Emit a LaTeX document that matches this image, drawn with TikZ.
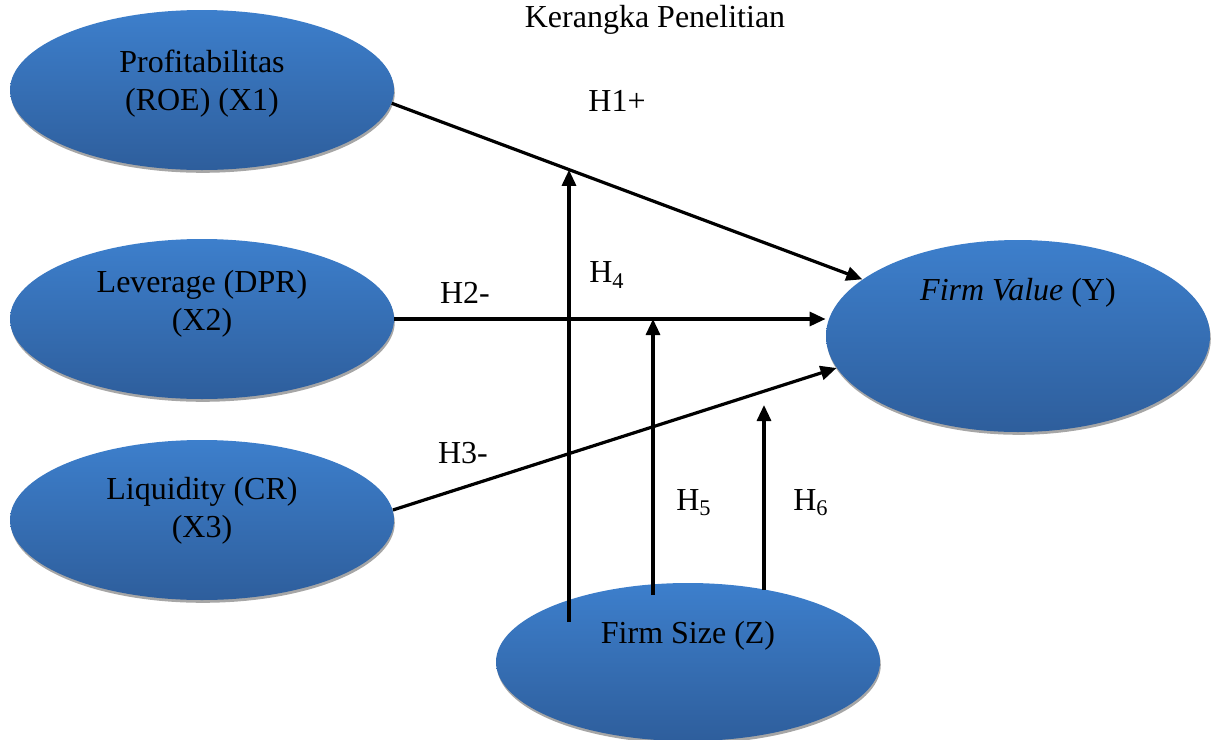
\documentclass[tikz,border=0pt]{standalone}
\usepackage{fontspec}
\setmainfont{Liberation Serif}
\usepackage{tikz}
\usetikzlibrary{shapes.geometric, arrows.meta, positioning, shadows}
\definecolor{vartop}{RGB}{61,127,204}
\definecolor{varbot}{RGB}{46,94,156}

\begin{document}
\begin{tikzpicture}[
    x=0.5pt, y=-0.5pt,
    var/.style={ellipse, top color=vartop, bottom color=varbot, draw=none,
        minimum width=192pt, minimum height=80pt, inner sep=0pt,
        drop shadow={shadow xshift=0.4pt, shadow yshift=-1.4pt, fill=black!35, opacity=1}},
    txt/.style={align=center, inner sep=0pt, font=\fontsize{16}{19}\selectfont},
    hyp/.style={inner sep=0pt, font=\fontsize{16}{19}\selectfont},
    arrow/.style={-{Triangle[length=8pt, width=7pt]}, line width=1.6pt}
]
\useasboundingbox (0,0) rectangle (1212,740);

\node[txt] (title) at (655,20) {Kerangka Penelitian};

\node[var] (x1) at (202,90) {};
\node[var] (x2) at (202,319) {};
\node[var] (x3) at (202,520) {};
\node[var, minimum height=96pt] (y) at (1018,336) {};
\node[var, minimum height=79pt] (z) at (688,662) {};

\node[txt] (x1txt) at (202,84) {Profitabilitas\\(ROE) (X1)};
\node[txt] (x2txt) at (202,304) {Leverage (DPR)\\(X2)};
\node[txt] (x3txt) at (202,511) {Liquidity (CR)\\(X3)};
\node[txt] (ytxt) at (1018,293) {\textit{Firm Value} (Y)};
\node[txt] (ztxt) at (688,636) {Firm Size (Z)};

\draw[arrow] (x1.-4) -- coordinate[pos=0.378] (h4) (y.160);
\draw[arrow] (x2.east) -- coordinate[pos=0.598] (h5) (y.west |- x2.east);
\draw[arrow] (x3.3) -- (y.190);

\coordinate (z4) at (569,622);
\coordinate (z5) at (653,595);
\coordinate (z6) at (764,590);
\coordinate (h6) at (764,405);
\draw[arrow] (z4) -- (z4 |- h4);
\draw[arrow] (z5) -- (z5 |- h5);
\draw[arrow] (z6) -- (h6);

\node[hyp] (h1lbl) at (617,101) {H1+};
\node[hyp] (h2lbl) at (465,293) {H2-};
\node[hyp] (h3lbl) at (463,453) {H3-};
\node[hyp] (h4lbl) at (607,275) {H\textsubscript{4}};
\node[hyp] (h5lbl) at (694,503) {H\textsubscript{5}};
\node[hyp] (h6lbl) at (811,503) {H\textsubscript{6}};
\end{tikzpicture}
\end{document}
